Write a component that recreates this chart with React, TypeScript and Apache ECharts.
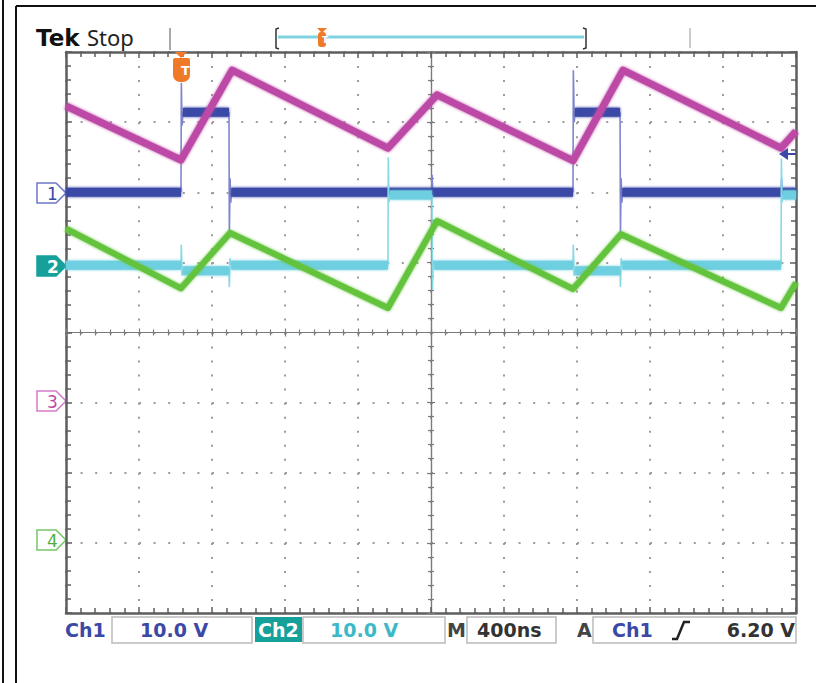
import React, { useEffect, useRef } from "react";
import * as echarts from "echarts";

// Time in ns (400 ns/div, 10 divisions). Ch1/Ch2 in volts (10 V/div).
// Ch3/Ch4 in divisions above their ground markers.
const TIME_MAX = 4000;
const TIME_DIV = 400;
const CH1_GROUND_DIV = 6.0;
const CH2_GROUND_DIV = 4.96;
const CH3_GROUND_DIV = 3.0;
const CH4_GROUND_DIV = 1.0;
const VOLTS_PER_DIV = 10;

type P = [number, number] | null;

const CH1_BAND: P[] = [[0, 0], [630, 0], null, [641, 11.4], [893, 11.4], null, [905, 0], [2778, 0], null, [2789, 11.4], [3036, 11.4], null, [3048, 0], [4000, 0]];
const CH1_EDGES: P[] = [[630, 0], [632, 15.6], [636, 9.5], [641, 11.4], null, [893, 11.4], [895, -6.4], [899, 2.0], [903, -1.5], [907, 0], null, [2003, 0], [2006, 2.5], [2010, 0], null, [2778, 0], [2780, 17.4], [2785, 10], [2789, 11.4], null, [3036, 11.4], [3038, -6.2], [3042, 2], [3046, -1.5], [3050, 0], null, [3918, 0], [3921, 2], [3925, 0]];

const CH2_BAND: P[] = [[0, 0], [630, 0], null, [641, -0.8], [893, -0.8], null, [905, 0], [1764, 0], null, [1775, 10.0], [2005, 10.0], null, [2018, 0], [2778, 0], null, [2789, -0.8], [3036, -0.8], null, [3048, 0], [3918, 0], null, [3929, 10.0], [4000, 10.0]];
const CH2_EDGES: P[] = [[630, 0], [632, 2.9], [636, -1.5], [641, -0.8], null, [893, -0.8], [895, -3.1], [899, 1.0], [905, 0], null, [1764, 0], [1766, 15.4], [1770, 9], [1775, 10], null, [2005, 10], [2008, -3.5], [2013, 0.8], [2018, 0], null, [2778, 0], [2780, 2.9], [2784, -1.5], [2789, -0.8], null, [3036, -0.8], [3038, -3.1], [3042, 1.0], [3048, 0], null, [3918, 0], [3920, 15.2], [3924, 9], [3929, 10]];

const CH3_WAVE: P[] = [[0, 4.23], [630, 3.46], [910, 4.74], [1764, 3.63], [2033, 4.39], [2778, 3.45], [3052, 4.74], [3918, 3.63], [4000, 3.87]];
const CH4_WAVE: P[] = [[0, 4.48], [630, 3.63], [899, 4.42], [1764, 3.35], [2033, 4.59], [2778, 3.62], [3041, 4.40], [3918, 3.35], [4000, 3.71]];

const COLORS = {
  ch1: "#3b48a6",
  ch1Edge: "#7f86cf",
  ch2: "#6dcfdf",
  ch2Edge: "#86d9e6",
  ch3: "#bd4aa6",
  ch4: "#63c33d",
  orange: "#f07a2a",
  teal: "#15a09a",
  frame: "#5e5e5e",
  dots: "#9c9c9c",
};

const toData = (pts: P[], ground: number, scale: number) =>
  pts.map((p) => (p ? [p[0], ground + p[1] / scale] : ["-", "-"]));

const GRID = { left: 66, top: 52, width: 730, height: 561 };

function pentagon(cy: number) {
  return [[37, cy - 10], [56, cy - 10], [66, cy], [56, cy + 10], [37, cy + 10]];
}

const font = (size: number, bold = true, fam = '"DejaVu Sans"') => `${bold ? "bold " : ""}${size}px ${fam}`;

function txt(x: number, y: number, text: string, fill: string, f: string, align = "left") {
  return {
    type: "text",
    x,
    y,
    z: 100,
    style: { text, fill, font: f, textAlign: align, textVerticalAlign: "middle", align, verticalAlign: "middle" },
  };
}

export default function App() {
  const ref = useRef<HTMLDivElement>(null);
  useEffect(() => {
    if (!ref.current) return;
    const chart = echarts.init(ref.current, undefined, { renderer: "svg" });

    const borderAxis = (extra: any) => ({
      type: "value",
      axisLine: { show: true, onZero: false, lineStyle: { color: COLORS.frame, width: 2.5 } },
      axisTick: { show: true, inside: true, length: 6, lineStyle: { color: COLORS.frame, width: 1.5 } },
      minorTick: { show: true, splitNumber: 5, length: 5, lineStyle: { color: COLORS.frame, width: 1.5 } },
      axisLabel: { show: false },
      splitLine: { show: false },
      ...extra,
    });
    const centerAxis = (extra: any, inside: boolean) => ({
      type: "value",
      axisLine: { show: true, onZero: true, lineStyle: { color: "#7a7a7a", width: 1.2 } },
      axisTick: { show: true, inside, length: 4, lineStyle: { color: "#7a7a7a", width: 1.2 } },
      minorTick: { show: true, splitNumber: 5, length: 3, lineStyle: { color: "#7a7a7a", width: 1.2 } },
      axisLabel: { show: false },
      splitLine: { show: false },
      ...extra,
    });

    const band = (color: string, width: number) => ({
      color, width, cap: "butt", join: "round", shadowBlur: 3, shadowColor: color,
    });

    const option: any = {
      animation: false,
      backgroundColor: "#ffffff",
      grid: [
        { ...GRID, containLabel: false },
        { ...GRID, containLabel: false },
        { ...GRID, containLabel: false },
      ],
      xAxis: [
        borderAxis({
          gridIndex: 0, min: 0, max: TIME_MAX, interval: TIME_DIV, position: "bottom",
          splitLine: { show: true, lineStyle: { color: COLORS.dots, width: 2, type: [2, 12.025] } },
        }),
        borderAxis({ gridIndex: 0, min: 0, max: TIME_MAX, interval: TIME_DIV, position: "top" }),
        centerAxis({ gridIndex: 1, min: -2000, max: 2000, interval: TIME_DIV }, true),
        centerAxis({ gridIndex: 2, min: -2000, max: 2000, interval: TIME_DIV }, false),
      ],
      yAxis: [
        borderAxis({
          gridIndex: 0, min: 0, max: 8, interval: 1, position: "left",
          splitLine: { show: true, lineStyle: { color: COLORS.dots, width: 2, type: [2, 12.6] } },
        }),
        borderAxis({ gridIndex: 0, min: 0, max: 8, interval: 1, position: "right" }),
        centerAxis({ gridIndex: 1, min: -4, max: 4, interval: 1 }, true),
        centerAxis({ gridIndex: 2, min: -4, max: 4, interval: 1 }, false),
      ],
      series: [
        {
          name: "Ch1 edges", type: "line", xAxisIndex: 0, yAxisIndex: 0, symbol: "none", z: 3,
          data: toData(CH1_EDGES, CH1_GROUND_DIV, VOLTS_PER_DIV),
          lineStyle: { color: COLORS.ch1Edge, width: 1.6 },
        },
        {
          name: "Ch1", type: "line", xAxisIndex: 0, yAxisIndex: 0, symbol: "none", z: 4,
          data: toData(CH1_BAND, CH1_GROUND_DIV, VOLTS_PER_DIV),
          lineStyle: band(COLORS.ch1, 9),
        },
        {
          name: "Ch2 edges", type: "line", xAxisIndex: 0, yAxisIndex: 0, symbol: "none", z: 5,
          data: toData(CH2_EDGES, CH2_GROUND_DIV, VOLTS_PER_DIV),
          lineStyle: { color: COLORS.ch2Edge, width: 1.6 },
        },
        {
          name: "Ch2", type: "line", xAxisIndex: 0, yAxisIndex: 0, symbol: "none", z: 6,
          data: toData(CH2_BAND, CH2_GROUND_DIV, VOLTS_PER_DIV),
          lineStyle: band(COLORS.ch2, 9),
        },
        {
          name: "Ch3", type: "line", xAxisIndex: 0, yAxisIndex: 0, symbol: "none", z: 7,
          data: toData(CH3_WAVE, CH3_GROUND_DIV, 1),
          lineStyle: band(COLORS.ch3, 7),
        },
        {
          name: "Ch4", type: "line", xAxisIndex: 0, yAxisIndex: 0, symbol: "none", z: 8,
          data: toData(CH4_WAVE, CH4_GROUND_DIV, 1),
          lineStyle: band(COLORS.ch4, 6),
        },
      ],
      graphic: [
        // outer frame
        { type: "line", shape: { x1: 3, y1: 0, x2: 3, y2: 683 }, style: { stroke: "#111", lineWidth: 2 } },
        { type: "line", shape: { x1: 16, y1: 6, x2: 16, y2: 683 }, style: { stroke: "#111", lineWidth: 2 } },
        { type: "line", shape: { x1: 16, y1: 6, x2: 816, y2: 6 }, style: { stroke: "#111", lineWidth: 2 } },
        // header
        txt(36, 38, "Tek", "#111", font(23, true, '"DejaVu Sans"')),
        txt(87, 37, "Stop", "#222", font(22, false, '"Noto Sans"')),
        { type: "line", shape: { x1: 170, y1: 28, x2: 170, y2: 50 }, style: { stroke: "#aaa", lineWidth: 2 } },
        { type: "line", shape: { x1: 690, y1: 28, x2: 690, y2: 48 }, style: { stroke: "#ccc", lineWidth: 2 } },
        { type: "line", shape: { x1: 278, y1: 37, x2: 584, y2: 37 }, style: { stroke: "#7fd3e0", lineWidth: 3 } },
        { type: "polyline", shape: { points: [[279, 28], [276, 29], [276, 48], [279, 49]] }, style: { stroke: "#333", lineWidth: 1.5, fill: null } },
        { type: "polyline", shape: { points: [[583, 28], [586, 29], [586, 48], [583, 49]] }, style: { stroke: "#333", lineWidth: 1.5, fill: null } },
        { type: "polygon", shape: { points: [[317, 28], [327, 28], [322, 33]] }, style: { fill: COLORS.orange } },
        { type: "rect", shape: { x: 318, y: 32, width: 8, height: 15, r: 3 }, style: { fill: COLORS.orange } },
        txt(322, 40, "T", "#fff", font(9, true)),
        // trigger position marker
        { type: "polygon", z: 50, shape: { points: [[175, 52], [187, 52], [181, 58]] }, style: { fill: COLORS.orange } },
        { type: "rect", z: 50, shape: { x: 173, y: 58, width: 17, height: 24, r: [2, 2, 7, 7] }, style: { fill: COLORS.orange } },
        txt(181, 70, "T", "#fff", font(13, true)),
        // channel markers
        { type: "polygon", shape: { points: pentagon(193) }, style: { fill: "#fff", stroke: "#6f76c8", lineWidth: 1.5 } },
        txt(47, 194, "1", COLORS.ch1, font(17, false)),
        { type: "polygon", shape: { points: pentagon(266) }, style: { fill: COLORS.teal, stroke: COLORS.teal, lineWidth: 1.5 } },
        txt(47, 267, "2", "#fff", font(17, true)),
        { type: "polygon", shape: { points: pentagon(401) }, style: { fill: "#fff", stroke: "#d67ac7", lineWidth: 1.5 } },
        txt(47, 402, "3", COLORS.ch3, font(17, false)),
        { type: "polygon", shape: { points: pentagon(540) }, style: { fill: "#fff", stroke: "#74c866", lineWidth: 1.5 } },
        txt(47, 541, "4", "#4fae3c", font(17, false)),
        // Ch1 trigger level indicator
        { type: "polygon", z: 60, shape: { points: [[779, 154], [788, 148], [788, 160]] }, style: { fill: COLORS.ch1 } },
        { type: "line", z: 60, shape: { x1: 786, y1: 154, x2: 796, y2: 154 }, style: { stroke: COLORS.ch1, lineWidth: 2 } },
        // bottom status bar
        txt(65, 630, "Ch1", COLORS.ch1, font(19)),
        { type: "rect", shape: { x: 112, y: 617, width: 140, height: 26 }, style: { fill: null, stroke: "#bbb", lineWidth: 1.5 } },
        txt(140, 630, "10.0 V", COLORS.ch1, font(19)),
        { type: "rect", shape: { x: 255, y: 617, width: 47, height: 25 }, style: { fill: COLORS.teal } },
        txt(258, 630, "Ch2", "#fff", font(19)),
        { type: "rect", shape: { x: 303, y: 617, width: 142, height: 26 }, style: { fill: null, stroke: "#bbb", lineWidth: 1.5 } },
        txt(330, 630, "10.0 V", "#3cb9c8", font(19)),
        txt(447, 630, "M", "#444", font(19)),
        { type: "rect", shape: { x: 467, y: 617, width: 89, height: 26 }, style: { fill: null, stroke: "#bbb", lineWidth: 1.5 } },
        txt(477, 630, "400ns", "#333", font(19)),
        txt(577, 630, "A", "#444", font(19)),
        { type: "rect", shape: { x: 593, y: 617, width: 203, height: 26 }, style: { fill: null, stroke: "#bbb", lineWidth: 1.5 } },
        txt(612, 630, "Ch1", COLORS.ch1, font(19)),
        { type: "polyline", shape: { points: [[672, 639], [677, 639], [684, 622], [690, 622]] }, style: { stroke: "#222", lineWidth: 2.5, fill: null } },
        txt(795, 630, "6.20 V", "#333", font(19), "right"),
      ],
    };
    chart.setOption(option);
    return () => chart.dispose();
  }, []);

  return (
    <div style={{ position: "fixed", left: 0, top: 0, width: 816, height: 683, background: "#fff" }}>
      <div ref={ref} style={{ width: 816, height: 683 }} />
    </div>
  );
}
